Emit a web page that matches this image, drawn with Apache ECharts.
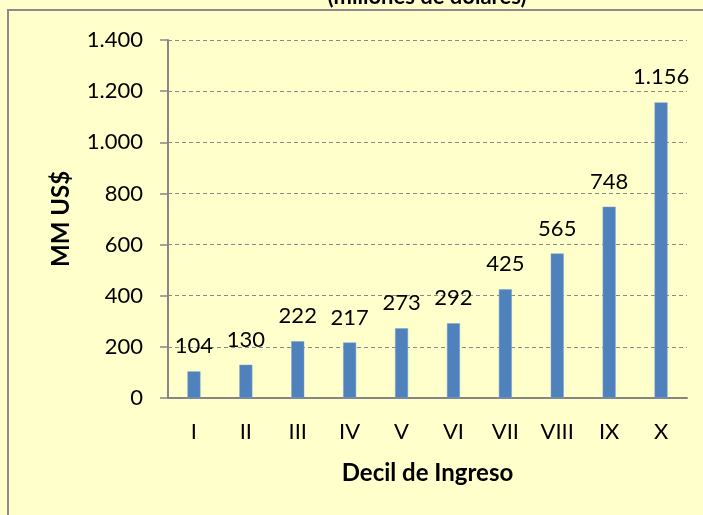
<!DOCTYPE html>
<html>
<head>
<meta charset="utf-8">
<script src="https://cdn.jsdelivr.net/npm/echarts@6/dist/echarts.min.js"></script>
<style>
html,body{margin:0;padding:0;background:#FFFFCC;}
#chart{width:703px;height:515px;}
</style>
</head>
<body>
<div id="chart"></div>
<script>
const categories = ['I','II','III','IV','V','VI','VII','VIII','IX','X'];
const values = [104,130,222,217,273,292,425,565,748,1156];
const titleText = '(millones de dólares)';
const yAxisName = 'MM US$';
const xAxisName = 'Decil de Ingreso';

function fmt(v){
  return String(v).replace(/\B(?=(\d{3})+(?!\d))/g, '.');
}

const FONT = 'Lato, "Open Sans", sans-serif';
const chart = echarts.init(document.getElementById('chart'), null, {renderer:'canvas'});
chart.setOption({
  backgroundColor: '#FFFFCC',
  animation: false,
  textStyle: {fontFamily: FONT},
  graphic: [
    {type:'rect', shape:{x:8, y:10, width:720, height:620},
     style:{fill:'none', stroke:'#8c8c8c', lineWidth:2}, z:0},
    {type:'text', z:10,
     style:{text:titleText, x:427, y:-14, textAlign:'center', textVerticalAlign:'top',
            fill:'#000', font:'bold 22px ' + FONT}}
  ],
  grid: {left:168, right:16, top:40, bottom:117, containLabel:false},
  xAxis: {
    type:'category', data:categories,
    axisLine:{lineStyle:{color:'#868686', width:2}},
    axisTick:{show:false},
    axisLabel:{color:'#000', fontSize:22, margin:23, fontFamily:FONT},
    name:xAxisName, nameLocation:'middle', nameGap:63,
    nameTextStyle:{color:'#000', fontSize:24, fontWeight:'bold', fontFamily:FONT}
  },
  yAxis: {
    type:'value', min:0, max:1400, interval:200,
    axisLine:{show:true, lineStyle:{color:'#868686', width:2}},
    axisTick:{show:true, length:8, lineStyle:{color:'#868686', width:1.5}},
    axisLabel:{color:'#000', fontSize:22, margin:25, fontFamily:FONT, formatter:fmt},
    splitLine:{show:true, lineStyle:{color:'#8a8a8a', type:[4,3], width:1.2}},
    name:yAxisName, nameLocation:'middle', nameGap:95, nameRotate:90,
    nameTextStyle:{color:'#000', fontSize:24, fontWeight:'bold', fontFamily:FONT}
  },
  series: [{
    type:'bar', data:values, barWidth:13,
    itemStyle:{color:'#4F81BD', borderColor:'#7FA3D0', borderWidth:0.5},
    label:{show:true, position:'top', distance:14, color:'#000', fontSize:22,
      fontFamily:FONT, formatter:p=>fmt(p.value)}
  }]
});
</script>
</body>
</html>
